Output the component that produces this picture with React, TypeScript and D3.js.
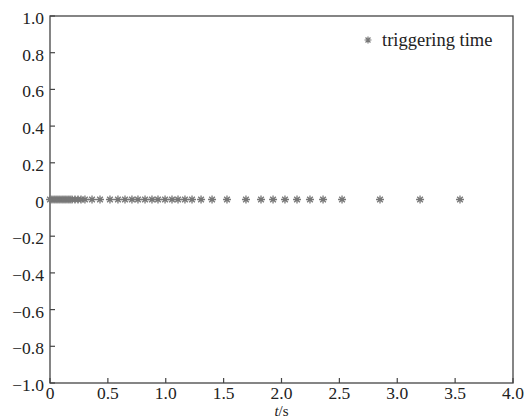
// Triggering-time scatter: every event drawn as an asterisk on the y=0 line.
import * as d3 from "d3";

const triggerTimes = [
  0.0, 0.017, 0.035, 0.052, 0.069, 0.086, 0.104, 0.121, 0.138, 0.156, 0.173,
  0.19, 0.216, 0.242, 0.268, 0.302, 0.363, 0.432, 0.518, 0.587, 0.648, 0.708,
  0.76, 0.821, 0.881, 0.933, 0.994, 1.054, 1.106, 1.166, 1.227, 1.305, 1.4,
  1.529, 1.693, 1.823, 1.927, 2.03, 2.134, 2.246, 2.359, 2.523, 2.851, 3.197,
  3.542,
];
const triggerValues = triggerTimes.map(() => 0);

const xTicks = [0, 0.5, 1.0, 1.5, 2.0, 2.5, 3.0, 3.5, 4.0];
const yTicks = [-1.0, -0.8, -0.6, -0.4, -0.2, 0, 0.2, 0.4, 0.6, 0.8, 1.0];
const legendLabel = "triggering time";

const W = 526;
const H = 418;
const margin = { top: 16, right: 13, bottom: 35, left: 50 };
const FONT = "Liberation Serif";
const AXIS = "#444";
const TEXT = "#222";
const STAR = "#777";

// 8-armed asterisk (plus + cross)
function starPath(r: number) {
  const d = r * Math.SQRT1_2;
  return `M${-r},0L${r},0M0,${-r}L0,${r}M${-d},${-d}L${d},${d}M${-d},${d}L${d},${-d}`;
}

const fmt = (v: number) => (v === 0 ? "0" : d3.format(".1f")(v).replace("-", "\u2212"));

export default function App() {
  const innerW = W - margin.left - margin.right;
  const innerH = H - margin.top - margin.bottom;

  const x = d3.scaleLinear().domain([0, 4]).range([0, innerW]);
  const y = d3.scaleLinear().domain([-1, 1]).range([innerH, 0]);

  const points = triggerTimes.map((t, i) => ({ t, v: triggerValues[i] }));

  return (
    <svg
      width={W}
      height={H}
      viewBox={`0 0 ${W} ${H}`}
      style={{ position: "absolute", left: 0, top: 0, background: "#fff" }}
    >
      <g transform={`translate(${margin.left},${margin.top})`}>
        <rect width={innerW} height={innerH} fill="none" stroke={AXIS} strokeWidth={1.3} />

        {/* x ticks: inward on the bottom edge */}
        {xTicks.map(t => (
          <g key={`x${t}`} transform={`translate(${x(t)},${innerH})`}>
            <line y2={-5} stroke={AXIS} strokeWidth={1.2} />
            <text y={16} textAnchor="middle" fontFamily={FONT} fontSize={17.5} fill={TEXT}>{fmt(t)}</text>
          </g>
        ))}

        {/* y ticks: inward on the left edge */}
        {yTicks.map(t => (
          <g key={`y${t}`} transform={`translate(0,${y(t)})`}>
            <line x2={5} stroke={AXIS} strokeWidth={1.2} />
            <text x={-6} y={8} textAnchor="end" fontFamily={FONT} fontSize={17.5} fill={TEXT}>{fmt(t)}</text>
          </g>
        ))}

        <text x={innerW / 2} y={innerH + 33} textAnchor="middle" fontFamily={FONT} fontSize={15} fill={TEXT}>
          <tspan fontStyle="italic">t</tspan>/s
        </text>

        {points.map((d, i) => (
          <path
            key={i}
            transform={`translate(${x(d.t)},${y(d.v)})`}
            d={starPath(4)}
            fill="none"
            stroke={STAR}
            strokeWidth={1.3}
          />
        ))}

        <g transform={`translate(${innerW - 145},24)`}>
          <path d={starPath(3.5)} fill="none" stroke={STAR} strokeWidth={1.2} />
          <text x={14} y={6} fontFamily={FONT} fontSize={18.5} fill={TEXT}>{legendLabel}</text>
        </g>
      </g>
    </svg>
  );
}
